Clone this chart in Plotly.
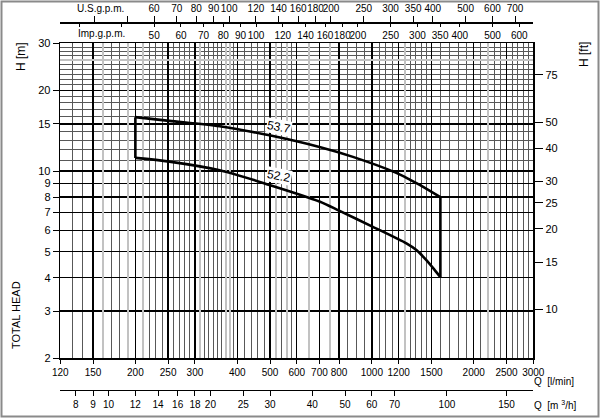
import numpy as np
import plotly.graph_objects as go

# ---------------- data ----------------
q_upper = [200, 252, 355, 498, 700, 879, 1181, 1294, 1385, 1594]          # l/min
h_upper = [15.9, 15.4, 14.7, 13.6, 12.3, 11.3, 9.85, 9.3, 8.88, 7.99]     # m
q_lower = [200, 252, 355, 498, 700, 803, 1007, 1265, 1354, 1449, 1534, 1594]
h_lower = [11.2, 10.85, 10.07, 8.88, 7.70, 7.10, 6.19, 5.37, 5.07, 4.65, 4.27, 4.02]

curve_labels = ["53.7", "52.2"]
label_q = [531, 531]
label_h = [14.6, 9.6]

# axis ticks
q_ticks = [120, 150, 200, 250, 300, 400, 500, 600, 700, 800, 1000, 1200, 1500, 2000, 2500, 3000]
h_ticks = [2, 3, 4, 5, 6, 7, 8, 9, 10, 15, 20, 30]
ft_ticks = [10, 15, 20, 25, 30, 40, 50, 75, 100]
us_ticks = [40, 50, 60, 70, 80, 90, 100, 120, 140, 160, 180, 200, 250, 300, 350, 400, 500, 600, 700]
us_text = [" ", " "] + [str(v) for v in us_ticks[2:]]
imp_ticks = [30, 40, 50, 60, 70, 80, 90, 100, 120, 140, 160, 180, 200, 250, 300, 350, 400, 500, 600]
imp_text = [" ", " "] + [str(v) for v in imp_ticks[2:]]
m3h_ticks = [8, 9, 10, 12, 14, 16, 18, 20, 25, 30, 40, 50, 60, 70, 100, 150]

# grid structure
q_minor = (list(range(130, 200, 10)) + list(range(210, 400, 10)) + list(range(420, 600, 20))
           + [650, 750, 850, 900, 950, 1050, 1100, 1150, 1250, 1300, 1350, 1400, 1450]
           + list(range(1600, 2000, 100)) + list(range(2100, 2500, 100)) + list(range(2600, 3000, 100)))
h_minor = [11, 12, 13, 14, 16, 17, 18, 19] + list(range(21, 30))
q_light = [160, 190, 210, 310, 370, 380, 520, 560, 650, 750, 1250, 2200]
h_light = [26]

# unit conversions
L_PER_USGAL = 3.78541
L_PER_IMPGAL = 4.54609
LMIN_PER_M3H = 1000 / 60
M_PER_FT = 0.3048

W, H = 600, 418
x0px, x1px = 60.3, 533.3
y0px, y1px = 43.3, 358.3
xdom = [x0px / W, x1px / W]
ydom = [1 - y1px / H, 1 - y0px / H]
qmin, qmax = 120, 3000
hmin, hmax = 2, 30

FONT = "Liberation Sans, Arial, sans-serif"
tf = dict(family=FONT, size=10, color="black")

fig = go.Figure()

LINE = dict(color="black", width=2.6)
# upper and lower curves (smooth)
fig.add_trace(go.Scatter(x=q_upper, y=h_upper, mode="lines",
                         line=dict(**LINE, shape="spline", smoothing=0.8),
                         hoverinfo="skip", showlegend=False))
fig.add_trace(go.Scatter(x=q_lower, y=h_lower, mode="lines",
                         line=dict(**LINE, shape="spline", smoothing=0.8),
                         hoverinfo="skip", showlegend=False))
# left and right edges of the operating field
fig.add_trace(go.Scatter(x=[q_lower[0], q_upper[0]], y=[h_lower[0], h_upper[0]], mode="lines",
                         line=LINE, hoverinfo="skip", showlegend=False))
fig.add_trace(go.Scatter(x=[q_upper[-1], q_lower[-1]], y=[h_upper[-1], h_lower[-1]], mode="lines",
                         line=LINE, hoverinfo="skip", showlegend=False))

# empty traces so that every secondary axis gets drawn
for xa, ya in [("x2", "y"), ("x3", "y"), ("x4", "y"), ("x5", "y"), ("x", "y2"), ("x", "y3")]:
    fig.add_trace(go.Scatter(x=[], y=[], xaxis=xa, yaxis=ya, mode="lines",
                             hoverinfo="skip", showlegend=False))

common_x = dict(type="log", automargin=False, fixedrange=True, tickangle=0)
MINOR_COLOR = "#585858"

fig.update_layout(
    width=W, height=H,
    margin=dict(l=0, r=0, t=0, b=0),
    paper_bgcolor="white", plot_bgcolor="white",
    showlegend=False,
    xaxis=dict(**common_x, domain=xdom, range=[np.log10(qmin), np.log10(qmax)],
               tickmode="array", tickvals=q_ticks, ticktext=[str(v) for v in q_ticks],
               ticks="outside", ticklen=4, tickwidth=1, tickcolor="black",
               tickfont=tf, showline=True, linecolor="black", linewidth=1.6, mirror=True,
               showgrid=True, gridcolor="black", gridwidth=1.4, zeroline=False,
               minor=dict(tickmode="array", tickvals=q_minor, showgrid=True,
                          gridcolor=MINOR_COLOR, gridwidth=1, ticks=""),
               anchor="y"),
    yaxis=dict(type="log", domain=ydom, automargin=False, fixedrange=True,
               range=[np.log10(hmin), np.log10(hmax)],
               tickmode="array", tickvals=h_ticks, ticktext=[str(v) for v in h_ticks],
               ticks="outside", ticklen=6, tickwidth=1, tickcolor="black",
               tickfont=dict(family=FONT, size=11, color="black"),
               showline=True, linecolor="black", linewidth=1.6, mirror=True,
               showgrid=True, gridcolor="black", gridwidth=1.4, zeroline=False,
               minor=dict(tickmode="array", tickvals=h_minor, showgrid=True,
                          gridcolor=MINOR_COLOR, gridwidth=1, ticks=""),
               anchor="x"),
    yaxis2=dict(type="log", overlaying="y", side="right", anchor="x", automargin=False,
                range=[np.log10(hmin / M_PER_FT), np.log10(hmax / M_PER_FT)],
                tickmode="array", tickvals=ft_ticks, ticktext=[str(v) for v in ft_ticks],
                ticks="outside", ticklen=9, tickwidth=1, tickcolor="black",
                tickfont=dict(family=FONT, size=11, color="black"),
                showgrid=False, showline=False, zeroline=False, fixedrange=True),
    xaxis2=dict(**common_x,
                overlaying="x", anchor="free", position=1 - 22.3 / H, side="top",
                range=[np.log10(qmin / L_PER_USGAL), np.log10(qmax / L_PER_USGAL)],
                tickmode="array", tickvals=us_ticks, ticktext=us_text,
                ticks="outside", ticklen=6, tickwidth=1, tickcolor="black", tickfont=tf,
                showline=True, linecolor="black", linewidth=1.3, showgrid=False, zeroline=False),
    xaxis3=dict(**common_x,
                overlaying="x", anchor="free", position=1 - 22.3 / H, side="bottom",
                range=[np.log10(qmin / L_PER_IMPGAL), np.log10(qmax / L_PER_IMPGAL)],
                tickmode="array", tickvals=imp_ticks, ticktext=imp_text,
                ticks="outside", ticklen=4, tickwidth=1, tickcolor="black", tickfont=tf,
                showline=False, showgrid=False, zeroline=False),
    xaxis4=dict(**common_x,
                overlaying="x", anchor="free", position=1 - 390 / H, side="bottom",
                range=[np.log10(qmin / LMIN_PER_M3H), np.log10(qmax / LMIN_PER_M3H)],
                tickmode="array", tickvals=m3h_ticks, ticktext=[str(v) for v in m3h_ticks],
                ticks="outside", ticklen=5, tickwidth=1, tickcolor="black", tickfont=tf,
                showline=True, linecolor="black", linewidth=1.3, showgrid=False, zeroline=False),
    xaxis5=dict(**common_x,
                overlaying="x", anchor="y",
                range=[np.log10(qmin), np.log10(qmax)],
                tickmode="array", tickvals=q_light, showticklabels=False, ticks="",
                showgrid=True, gridcolor="#c2c2c2", gridwidth=2, showline=False, zeroline=False),
    yaxis3=dict(type="log", overlaying="y", anchor="x", automargin=False, fixedrange=True,
                range=[np.log10(hmin), np.log10(hmax)],
                tickmode="array", tickvals=h_light, showticklabels=False, ticks="",
                showgrid=True, gridcolor="#c2c2c2", gridwidth=2, showline=False, zeroline=False),
)

def px_ann(text, x, y, size=11, angle=0, family=FONT, xanchor="center"):
    fig.add_annotation(text=text, xref="paper", yref="paper", x=x / W, y=1 - y / H,
                       showarrow=False, textangle=angle, xanchor=xanchor, yanchor="middle",
                       font=dict(family=family, size=size, color="black"))

px_ann("H [m]", 21, 57, size=12, angle=-90)
px_ann("TOTAL HEAD", 16, 315, size=11, angle=-90,
       family="Liberation Sans Narrow, Arial Narrow, Liberation Sans, sans-serif")
px_ann("H [ft]", 584, 55, size=12, angle=-90)
px_ann("Q  [l/min]", 532, 381, size=10, xanchor="left")
px_ann("Q  [m <sup>3</sup>/h]", 532, 405, size=10, xanchor="left")
px_ann("U.S.g.p.m.", 100, 9, size=10)
px_ann("Imp.g.p.m.", 101, 33, size=10)

for t, q, h in zip(curve_labels, label_q, label_h):
    fig.add_annotation(text=t, xref="x", yref="y", x=np.log10(q), y=np.log10(h),
                       showarrow=False, textangle=11, bgcolor="white", borderpad=0,
                       font=dict(family=FONT, size=12, color="black"))

fig.add_shape(type="rect", xref="paper", yref="paper", x0=1.5 / W, x1=1 - 1.5 / W,
              y0=1.5 / H, y1=1 - 1.5 / H, line=dict(color="#8a8a8a", width=2))

fig.write_html("out.html", config={"displayModeBar": False, "staticPlot": True},
               post_script="document.body.style.margin='0px';")
